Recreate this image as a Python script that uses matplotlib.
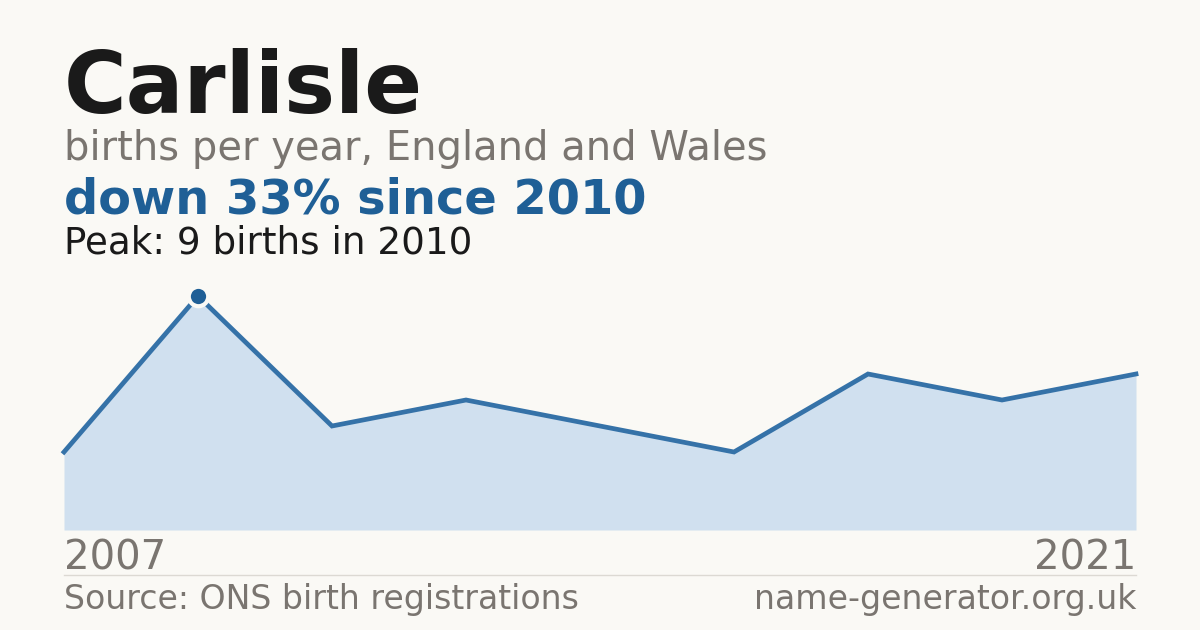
import matplotlib
matplotlib.use("Agg")
import matplotlib.pyplot as plt
from matplotlib.lines import Line2D

plt.rcParams['font.family'] = ['DejaVu Sans']

# Data
years = [2007, 2010, 2011, 2013, 2014, 2016, 2017, 2019, 2021]
births = [3, 9, 4, 5, 4, 3, 6, 5, 6]
peak_year = 2010
peak_value = 9
first_label = "2007"
last_label = "2021"

BG = "#faf9f5"
DARK = "#1a1a1a"
GREY = "#7a7570"
BLUE = "#1f5f96"
LINE = "#3572a8"
FILL = "#d0e0ef"

W, H = 1200, 630
fig = plt.figure(figsize=(12, 6.3), dpi=100, facecolor=BG)

def fx(px):
    return px / W

def fy(py):
    return 1 - py / H

ax = fig.add_axes([fx(64), fy(530), fx(1136) - fx(64), fy(296) - fy(530)])
ax.set_facecolor(BG)
ax.patch.set_alpha(0)
idx = list(range(len(births)))
ax.fill_between(idx, births, 0, color=FILL, lw=0)
ax.plot(idx, births, color=LINE, lw=3.4, solid_joinstyle="miter", clip_on=False)
pk = births.index(peak_value)
ax.plot([idx[pk]], [births[pk]], 'o', ms=14, mfc=BLUE, mec=BG, mew=3, clip_on=False, zorder=5)
ax.set_xlim(0, len(births) - 1)
ax.set_ylim(0, peak_value)
ax.axis("off")

fig.text(fx(64), fy(113), "Carlisle", fontsize=61.6, fontweight="bold", color=DARK, va="baseline", ha="left")
fig.text(fx(64), fy(160), "births per year, England and Wales", fontsize=28.8, color=GREY, va="baseline", ha="left")
fig.text(fx(64), fy(214), "down 33% since 2010", fontsize=34.5, fontweight="bold", color=BLUE, va="baseline", ha="left")
fig.text(fx(64), fy(254), f"Peak: {peak_value} births in {peak_year}", fontsize=26.8, color=DARK, va="baseline", ha="left")

fig.text(fx(64), fy(570), first_label, fontsize=29, color=GREY, va="baseline", ha="left")
fig.text(fx(1136), fy(570), last_label, fontsize=29, color=GREY, va="baseline", ha="right")

fig.add_artist(Line2D([fx(64), fx(1136)], [fy(574.5), fy(574.5)], color="#dcd9d3", lw=1))

fig.text(fx(64), fy(609), "Source: ONS birth registrations", fontsize=23.9, color=GREY, va="baseline", ha="left")
fig.text(fx(1136), fy(609), "name-generator.org.uk", fontsize=23.9, color=GREY, va="baseline", ha="right")

fig.savefig("out.png", dpi=100, facecolor=BG)
